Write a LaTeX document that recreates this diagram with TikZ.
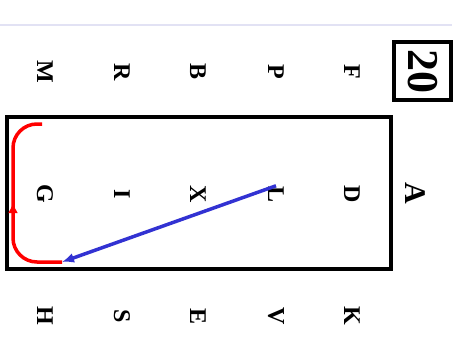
\documentclass[tikz,border=0pt]{standalone}
\usepackage{fontspec}
\setmainfont{Liberation Serif}
\usetikzlibrary{arrows.meta,decorations.markings}
\definecolor{faint}{RGB}{226,226,244}
\definecolor{arrblue}{RGB}{50,50,210}
\begin{document}
\begin{tikzpicture}[x=1pt,y=-1pt,
  letter/.style={font=\fontsize{24}{24}\selectfont\bfseries, rotate=-90, inner sep=0pt},
  bigletter/.style={font=\fontsize{30}{30}\selectfont\bfseries, rotate=-90, inner sep=0pt},
  numbox/.style={draw, line width=4pt, rotate=-90, font=\fontsize{44}{44}\selectfont\bfseries,
    minimum width=58pt, minimum height=57pt, inner sep=0pt},
  framebox/.style={draw, line width=4pt, minimum width=384pt, minimum height=152pt, inner sep=0pt},
  redpath/.style={draw=red, line width=3.5pt, rounded corners=24pt,
    postaction={decorate, decoration={markings,
      mark=at position 0.50 with {\arrow[red]{Latex[length=10pt,width=10pt]}}}}},
  bluearrow/.style={draw=arrblue, line width=3.5pt, -{Latex[length=12pt,width=10pt]}}
]
\useasboundingbox (0,0) rectangle (458,338);
\draw[faint, line width=1.5pt] (0,25) -- (452,25);

\node[framebox] (frame) at (199,193) {};
\node[numbox] (num) at (422.5,71) {20};

\node[letter] (M) at (45,72) {M};
\node[letter] (R) at (122,72) {R};
\node[letter] (B) at (198,72) {B};
\node[letter] (P) at (276,72) {P};
\node[letter] (F) at (352,72) {F};

\node[letter] (G) at (45,194) {G};
\node[letter] (I) at (122,194) {I};
\node[letter] (X) at (198,194) {X};
\node[letter] (L) at (276,194) {L};
\node[letter] (D) at (352,194) {D};
\node[bigletter] (A) at (415,193) {A};

\node[letter] (H) at (45,316) {H};
\node[letter] (S) at (122,316) {S};
\node[letter] (E) at (198,316) {E};
\node[letter] (V) at (276,316) {V};
\node[letter] (K) at (352,316) {K};

\coordinate (rs) at (62,262);
\coordinate (rc1) at (13,262);
\coordinate (rc2) at (13,124);
\coordinate (re) at (42,124);
\draw[redpath] (rs) -- (rc1) -- (rc2) -- (re);
\draw[bluearrow] (L.west) -- (rs);
\end{tikzpicture}
\end{document}
